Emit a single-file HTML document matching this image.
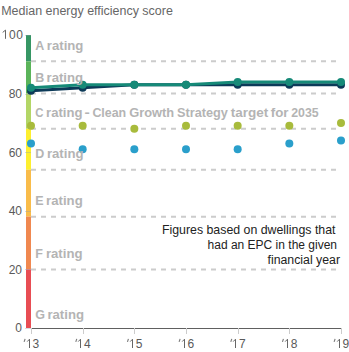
<!DOCTYPE html><html><head><meta charset="utf-8"><style>html,body{margin:0;padding:0;background:#fff;width:349px;height:352px;overflow:hidden}svg{display:block;font-family:"Liberation Sans",sans-serif}</style></head><body>
<svg width="349" height="352" viewBox="0 0 349 352">
<rect width="349" height="352" fill="#fff"/>
<text x="1.2" y="15" font-size="12.48" fill="#666">Median energy efficiency score</text>
<line x1="31" y1="61.37" x2="341" y2="61.37" stroke="#ccc" stroke-width="2" stroke-dasharray="5 5"/>
<line x1="31" y1="93.60" x2="341" y2="93.60" stroke="#ccc" stroke-width="2" stroke-dasharray="5 5"/>
<line x1="31" y1="128.76" x2="341" y2="128.76" stroke="#ccc" stroke-width="2" stroke-dasharray="5 5"/>
<line x1="31" y1="169.78" x2="341" y2="169.78" stroke="#ccc" stroke-width="2" stroke-dasharray="5 5"/>
<line x1="31" y1="216.66" x2="341" y2="216.66" stroke="#ccc" stroke-width="2" stroke-dasharray="5 5"/>
<line x1="31" y1="269.40" x2="341" y2="269.40" stroke="#ccc" stroke-width="2" stroke-dasharray="5 5"/>
<rect x="26" y="35.00" width="5" height="26.37" fill="#369664"/>
<rect x="26" y="61.37" width="5" height="32.23" fill="#5bb45a"/>
<rect x="26" y="93.60" width="5" height="35.16" fill="#b3d666"/>
<rect x="26" y="128.76" width="5" height="41.02" fill="#fdef2f"/>
<rect x="26" y="169.78" width="5" height="46.88" fill="#f9bc4a"/>
<rect x="26" y="216.66" width="5" height="52.74" fill="#f08850"/>
<rect x="26" y="269.40" width="5" height="58.60" fill="#e84d54"/>
<line x1="31" y1="328.5" x2="342" y2="328.5" stroke="#606060" stroke-width="1"/>
<line x1="31.50" y1="328" x2="31.50" y2="334" stroke="#ccc" stroke-width="1"/>
<line x1="83.50" y1="328" x2="83.50" y2="334" stroke="#ccc" stroke-width="1"/>
<line x1="134.50" y1="328" x2="134.50" y2="334" stroke="#ccc" stroke-width="1"/>
<line x1="186.50" y1="328" x2="186.50" y2="334" stroke="#ccc" stroke-width="1"/>
<line x1="238.50" y1="328" x2="238.50" y2="334" stroke="#ccc" stroke-width="1"/>
<line x1="289.50" y1="328" x2="289.50" y2="334" stroke="#ccc" stroke-width="1"/>
<line x1="341.50" y1="328" x2="341.50" y2="334" stroke="#ccc" stroke-width="1"/>
<line x1="25" y1="35.5" x2="31" y2="35.5" stroke="#8a9aa8" stroke-opacity="0.35" stroke-width="1"/>
<line x1="25" y1="94.5" x2="31" y2="94.5" stroke="#8a9aa8" stroke-opacity="0.35" stroke-width="1"/>
<line x1="25" y1="152.5" x2="31" y2="152.5" stroke="#8a9aa8" stroke-opacity="0.35" stroke-width="1"/>
<line x1="25" y1="211.5" x2="31" y2="211.5" stroke="#8a9aa8" stroke-opacity="0.35" stroke-width="1"/>
<line x1="25" y1="269.5" x2="31" y2="269.5" stroke="#8a9aa8" stroke-opacity="0.35" stroke-width="1"/>
<line x1="25" y1="328.5" x2="31" y2="328.5" stroke="#8a9aa8" stroke-opacity="0.35" stroke-width="1"/>
<text x="22" y="97.90" font-size="12" fill="#5a5a5a" text-anchor="end">80</text>
<text x="22" y="156.50" font-size="12" fill="#5a5a5a" text-anchor="end">60</text>
<text x="22" y="215.10" font-size="12" fill="#5a5a5a" text-anchor="end">40</text>
<text x="22" y="273.70" font-size="12" fill="#5a5a5a" text-anchor="end">20</text>
<text x="22" y="332.30" font-size="12" fill="#5a5a5a" text-anchor="end">0</text>
<path d="M2.7,32.4 L5.5,30.1 L5.5,38.8" stroke="#666" stroke-width="1" fill="none"/>
<text x="9.0" y="39.0" font-size="12" fill="#5a5a5a">0</text>
<text x="16.2" y="39.0" font-size="12" fill="#5a5a5a">0</text>
<path d="M25.10,338.9 L24.10,341.9" stroke="#777" stroke-width="1.1" fill="none"/>
<path d="M27.20,341.6 L29.50,339.2 L29.50,348" stroke="#666" stroke-width="1" fill="none"/>
<text x="32.40" y="348" font-size="12" fill="#5a5a5a">3</text>
<path d="M76.77,338.9 L75.77,341.9" stroke="#777" stroke-width="1.1" fill="none"/>
<path d="M78.20,341.6 L80.50,339.2 L80.50,348" stroke="#666" stroke-width="1" fill="none"/>
<text x="84.07" y="348" font-size="12" fill="#5a5a5a">4</text>
<path d="M128.43,338.9 L127.43,341.9" stroke="#777" stroke-width="1.1" fill="none"/>
<path d="M130.20,341.6 L132.50,339.2 L132.50,348" stroke="#666" stroke-width="1" fill="none"/>
<text x="135.73" y="348" font-size="12" fill="#5a5a5a">5</text>
<path d="M180.10,338.9 L179.10,341.9" stroke="#777" stroke-width="1.1" fill="none"/>
<path d="M182.20,341.6 L184.50,339.2 L184.50,348" stroke="#666" stroke-width="1" fill="none"/>
<text x="187.40" y="348" font-size="12" fill="#5a5a5a">6</text>
<path d="M231.77,338.9 L230.77,341.9" stroke="#777" stroke-width="1.1" fill="none"/>
<path d="M233.20,341.6 L235.50,339.2 L235.50,348" stroke="#666" stroke-width="1" fill="none"/>
<text x="239.07" y="348" font-size="12" fill="#5a5a5a">7</text>
<path d="M283.43,338.9 L282.43,341.9" stroke="#777" stroke-width="1.1" fill="none"/>
<path d="M285.20,341.6 L287.50,339.2 L287.50,348" stroke="#666" stroke-width="1" fill="none"/>
<text x="290.73" y="348" font-size="12" fill="#5a5a5a">8</text>
<path d="M335.10,338.9 L334.10,341.9" stroke="#777" stroke-width="1.1" fill="none"/>
<path d="M337.20,341.6 L339.50,339.2 L339.50,348" stroke="#666" stroke-width="1" fill="none"/>
<text x="342.40" y="348" font-size="12" fill="#5a5a5a">9</text>
<text x="335.5" y="233.6" font-size="12.35" fill="#222" text-anchor="end">Figures based on dwellings that</text>
<text x="337" y="249.2" font-size="12.0" fill="#222" text-anchor="end">had an EPC in the given</text>
<text x="340" y="263.7" font-size="12.3" fill="#222" text-anchor="end">financial year</text>
<circle cx="31.00" cy="125.83" r="4" fill="#a8bb3c"/>
<circle cx="82.67" cy="125.83" r="4" fill="#a8bb3c"/>
<circle cx="134.33" cy="128.76" r="4" fill="#a8bb3c"/>
<circle cx="186.00" cy="125.83" r="4" fill="#a8bb3c"/>
<circle cx="237.67" cy="125.83" r="4" fill="#a8bb3c"/>
<circle cx="289.33" cy="125.83" r="4" fill="#a8bb3c"/>
<circle cx="341.00" cy="122.90" r="4" fill="#a8bb3c"/>
<circle cx="31.00" cy="143.41" r="4" fill="#2a9fcb"/>
<circle cx="82.67" cy="149.27" r="4" fill="#2a9fcb"/>
<circle cx="134.33" cy="149.27" r="4" fill="#2a9fcb"/>
<circle cx="186.00" cy="149.27" r="4" fill="#2a9fcb"/>
<circle cx="237.67" cy="149.27" r="4" fill="#2a9fcb"/>
<circle cx="289.33" cy="143.41" r="4" fill="#2a9fcb"/>
<circle cx="341.00" cy="140.48" r="4" fill="#2a9fcb"/>
<polyline points="31.00,90.67 82.67,87.74 134.33,84.81 186.00,84.81 237.67,84.81 289.33,84.81 341.00,84.81" fill="none" stroke="#0c3a58" stroke-width="3" stroke-linejoin="round"/>
<circle cx="31.00" cy="90.67" r="4" fill="#0c3a58"/>
<circle cx="82.67" cy="87.74" r="4" fill="#0c3a58"/>
<circle cx="134.33" cy="84.81" r="4" fill="#0c3a58"/>
<circle cx="186.00" cy="84.81" r="4" fill="#0c3a58"/>
<circle cx="237.67" cy="84.81" r="4" fill="#0c3a58"/>
<circle cx="289.33" cy="84.81" r="4" fill="#0c3a58"/>
<circle cx="341.00" cy="84.81" r="4" fill="#0c3a58"/>
<polyline points="31.00,87.74 82.67,84.81 134.33,84.81 186.00,84.81 237.67,81.88 289.33,81.88 341.00,81.88" fill="none" stroke="#168a78" stroke-width="3" stroke-linejoin="round"/>
<circle cx="31.00" cy="87.74" r="4" fill="#168a78"/>
<circle cx="82.67" cy="84.81" r="4" fill="#168a78"/>
<circle cx="134.33" cy="84.81" r="4" fill="#168a78"/>
<circle cx="186.00" cy="84.81" r="4" fill="#168a78"/>
<circle cx="237.67" cy="81.88" r="4" fill="#168a78"/>
<circle cx="289.33" cy="81.88" r="4" fill="#168a78"/>
<circle cx="341.00" cy="81.88" r="4" fill="#168a78"/>
<text x="35.3" y="49.6" font-size="12.5" font-weight="bold" fill="#b4b4b4">A<tspan x="46.80" textLength="36.6" lengthAdjust="spacingAndGlyphs">rating</tspan></text>
<text x="35.3" y="82" font-size="12.5" font-weight="bold" fill="#b4b4b4">B<tspan x="46.50" textLength="36.6" lengthAdjust="spacingAndGlyphs">rating</tspan></text>
<text x="35.3" y="158.3" font-size="12.5" font-weight="bold" fill="#b4b4b4">D<tspan x="46.90" textLength="36.6" lengthAdjust="spacingAndGlyphs">rating</tspan></text>
<text x="35.3" y="205" font-size="12.5" font-weight="bold" fill="#b4b4b4">E<tspan x="46.10" textLength="36.6" lengthAdjust="spacingAndGlyphs">rating</tspan></text>
<text x="35.3" y="257.8" font-size="12.5" font-weight="bold" fill="#b4b4b4">F<tspan x="45.90" textLength="36.6" lengthAdjust="spacingAndGlyphs">rating</tspan></text>
<text x="35.3" y="318.7" font-size="12.5" font-weight="bold" fill="#b4b4b4">G<tspan x="47.40" textLength="36.6" lengthAdjust="spacingAndGlyphs">rating</tspan></text>
<text y="117" font-size="12.5" font-weight="bold" fill="#b4b4b4"><tspan x="35.20" textLength="8.20" lengthAdjust="spacingAndGlyphs">C</tspan><tspan x="46.10" textLength="36.40" lengthAdjust="spacingAndGlyphs">rating</tspan><tspan x="84.40" textLength="5.30" lengthAdjust="spacingAndGlyphs">-</tspan><tspan x="92.40" textLength="33.80" lengthAdjust="spacingAndGlyphs">Clean</tspan><tspan x="129.20" textLength="45.00" lengthAdjust="spacingAndGlyphs">Growth</tspan><tspan x="177.00" textLength="50.90" lengthAdjust="spacingAndGlyphs">Strategy</tspan><tspan x="230.70" textLength="37.50" lengthAdjust="spacingAndGlyphs">target</tspan><tspan x="270.70" textLength="17.80" lengthAdjust="spacingAndGlyphs">for</tspan><tspan x="291.20" textLength="27.50" lengthAdjust="spacingAndGlyphs">2035</tspan></text>
</svg></body></html>
